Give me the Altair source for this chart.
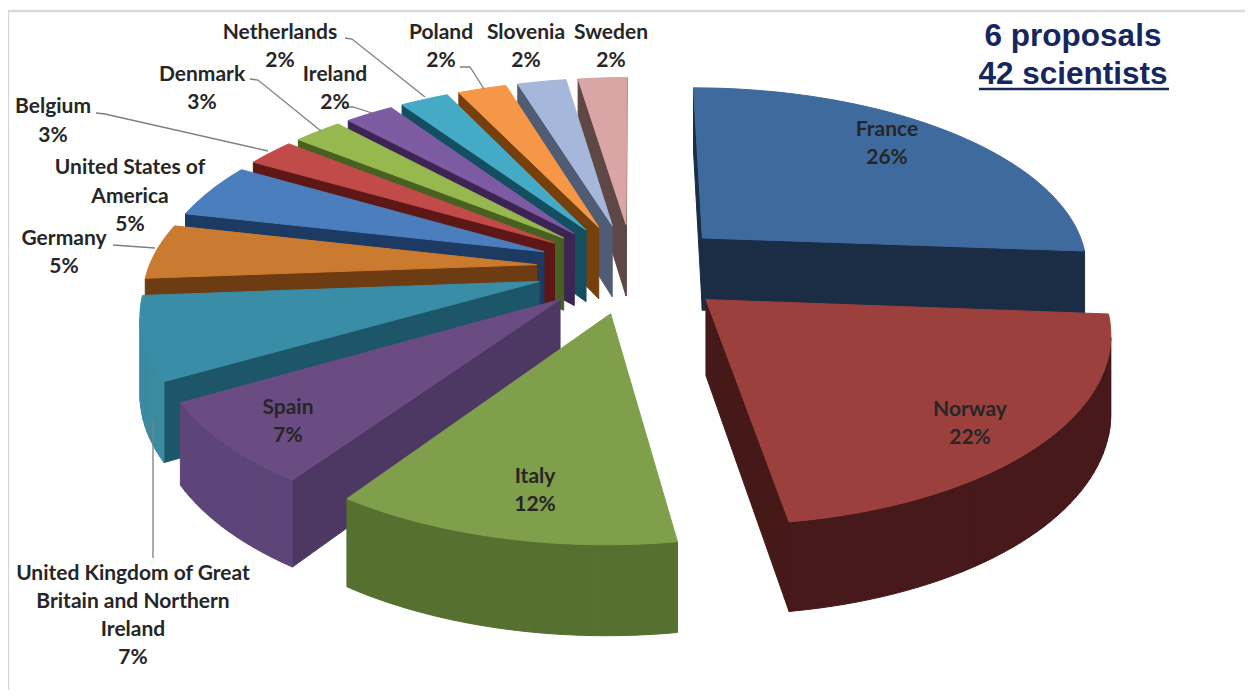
import math
import altair as alt

# ---- data
countries = ["France", "Norway", "Italy", "Spain", "United Kingdom of Great Britain and Northern Ireland",
             "Germany", "United States of America", "Belgium", "Denmark", "Ireland",
             "Netherlands", "Poland", "Slovenia", "Sweden"]
# scientists per country (42 in all); the printed percentages are in the labels below
scientists = [11, 9, 5, 3, 3, 2, 2, 1, 1, 1, 1, 1, 1, 1]
top_colors = ["#3F6A9E", "#9C403D", "#7F9F4A", "#6A4C82", "#3A8DA6", "#CB7B2F", "#4A7EBD",
              "#C04B48", "#97B84F", "#7D5BA3", "#44AAC6", "#F59746", "#A5B7DA", "#D9A6A5"]
wall_colors = ["#1B2D45", "#451917", "#4C6428", "#4D3863", "#1C5668", "#6E3C12", "#1D3A62",
               "#5C1716", "#486020", "#3C2453", "#134F60", "#76400D", "#4F5C74", "#5E4744"]
outer_colors = ["#1B2D45", "#47191A", "#55702F", "#5D4479", "#3A8AA0", "#6E3C12", "#1D3A62",
                "#5C1716", "#486020", "#3C2453", "#134F60", "#76400D", "#4F5C74", "#5E4744"]

# ---- view model of the tilted, exploded pie (page pixels)
OFF = 8
CX, CY = 633 - OFF, 268 - OFF
RX, RY, PERSP, DEPTH, EXPLODE = 388, 181, 0.15, 74, 0.25
STEPS_PER_SCIENTIST = 5


def project(x, z, h=0.0):
    w = 1 / (1 - PERSP * z)
    return [CX + RX * x * w, CY + (RY * z + h * DEPTH) * w]


def feature(ring, fill):
    return {"type": "Feature",
            "geometry": {"type": "Polygon", "coordinates": [ring + [ring[0]]]},
            "properties": {"fill": fill}}


total = sum(scientists)
slices = []
start = 0.0
for i, s in enumerate(scientists):
    end = start + s / total * 2 * math.pi
    mid = (start + end) / 2
    slices.append((-math.cos(mid), i, start, end, mid))
    start = end

features = []
for _, i, a0, a1, mid in sorted(slices):
    ox, oz = EXPLODE * math.sin(mid), -EXPLODE * math.cos(mid)
    n = max(2, scientists[i] * STEPS_PER_SCIENTIST)
    arc = [(ox + math.sin(a0 + (a1 - a0) * k / n), oz - math.cos(a0 + (a1 - a0) * k / n)) for k in range(n + 1)]
    apex = (ox, oz)
    path = [apex] + arc + [apex]
    walls = []
    for j in range(len(path) - 1):
        p, q = path[j], path[j + 1]
        pt, qt = project(*p), project(*q)
        if qt[0] < pt[0]:
            radial = j == 0 or j == len(path) - 2
            ring = [pt, qt, project(*q, 1), project(*p, 1)]
            walls.append(((p[1] + q[1]) / 2, ring, wall_colors[i] if radial else outer_colors[i]))
    for _z, ring, col in sorted(walls, key=lambda t: t[0]):
        features.append(feature(ring, col))
    features.append(feature([project(*apex)] + [project(*p) for p in arc], top_colors[i]))

pie = alt.Chart(alt.Data(values=features)).mark_geoshape(strokeWidth=1).encode(
    fill=alt.Fill("properties.fill:N", scale=None, legend=None),
    stroke=alt.Stroke("properties.fill:N", scale=None, legend=None),
).project(type="identity", scale=1, translate=[0, 0])

# ---- text, as (line, centre x, centre y) in page pixels
label_lines = [
    ("France", 887, 130), ("26%", 887, 158),
    ("Norway", 970, 410), ("22%", 970, 438),
    ("Italy", 535, 477), ("12%", 535, 505),
    ("Spain", 288, 408), ("7%", 288, 436),
    ("United Kingdom of Great", 133, 574), ("Britain and Northern", 133, 602),
    ("Ireland", 133, 630), ("7%", 133, 658),
    ("Germany", 64, 239), ("5%", 64, 267),
    ("United States of", 130, 168), ("America", 130, 197), ("5%", 130, 225),
    ("Belgium", 53, 107), ("3%", 53, 136),
    ("Denmark", 202, 75), ("3%", 202, 103),
    ("Ireland", 335, 75), ("2%", 335, 103),
    ("Netherlands", 280, 33), ("2%", 280, 61),
    ("Poland", 441, 33), ("2%", 441, 61),
    ("Slovenia", 526, 33), ("2%", 526, 61),
    ("Sweden", 611, 33), ("2%", 611, 61),
]
title_lines = [("6 proposals", 1073, 37), ("42 scientists", 1073, 75)]
leaders = {
    "Netherlands": [(345, 38), (352, 39), (425, 97)],
    "Denmark": [(250, 79), (258, 80), (321, 131)],
    "Ireland": [(342, 107), (353, 107), (372, 113)],
    "Belgium": [(96, 113), (105, 114), (268, 151)],
    "Germany": [(113, 245), (155, 248)],
    "Poland": [(460, 67), (470, 67), (484, 89)],
    "UK": [(153, 420), (153, 558)],
}
frame = {"left": [(8, 11), (8, 690)], "top": [(8, 11), (1245, 11)]}
underline = [(979, 89), (1169, 89)]

X = alt.X("x:Q", scale=None, axis=None)
Y = alt.Y("y:Q", scale=None, axis=None)


def rows(lines):
    return [{"t": t, "x": x - OFF, "y": y - OFF} for t, x, y in lines]


labels = alt.Chart(alt.Data(values=rows(label_lines))).mark_text(
    font="Lato", fontSize=21, fontWeight="bold", color="#262626", align="center", baseline="middle"
).encode(x=X, y=Y, text="t:N")

titles = alt.Chart(alt.Data(values=rows(title_lines))).mark_text(
    font="Liberation Sans", fontSize=31.5, fontWeight="bold", color="#16265F", align="center", baseline="middle"
).encode(x=X, y=Y, text="t:N")


def polyline(groups, color, width):
    vals = [{"g": g, "i": k, "x": x - OFF, "y": y - OFF}
            for g, pts in groups.items() for k, (x, y) in enumerate(pts)]
    return alt.Chart(alt.Data(values=vals)).mark_line(color=color, strokeWidth=width).encode(
        x=X, y=Y, detail="g:N", order="i:Q")


chart = alt.layer(
    polyline(frame, "#D9D9D9", 2.5),
    pie,
    polyline(leaders, "#7F7F7F", 1.3),
    labels,
    titles,
    polyline({"u": underline}, "#16265F", 2.5),
).properties(width=1237, height=683, padding=0, autosize="none", background="white").configure_view(stroke=None)

chart.save("out.html", embed_options={"renderer": "svg", "actions": False})
